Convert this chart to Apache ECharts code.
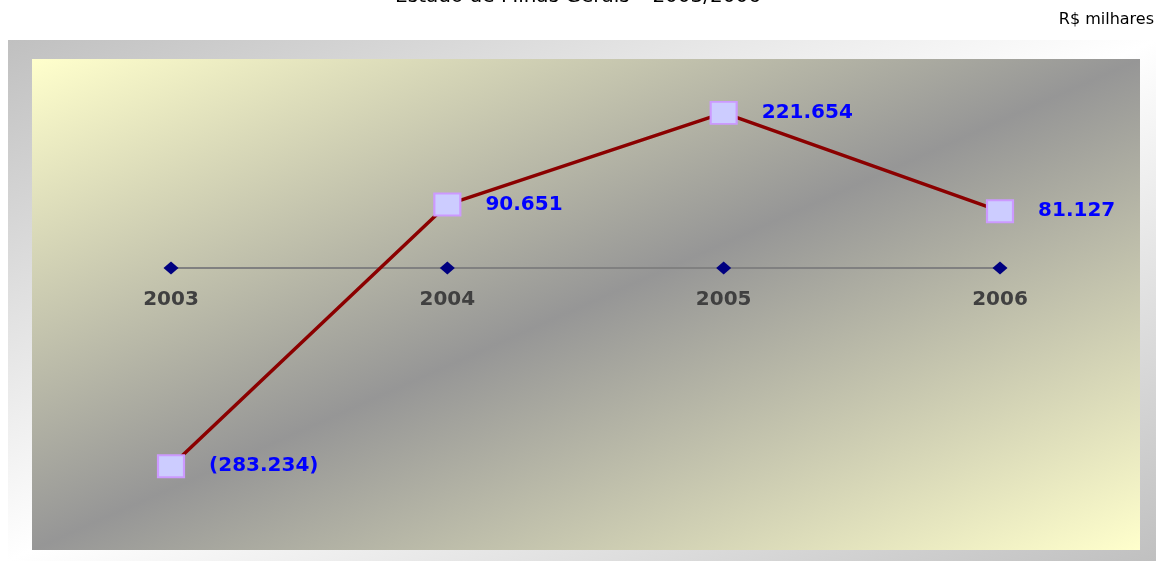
<!DOCTYPE html>
<html>
<head>
<meta charset="utf-8">
<script src="https://cdn.jsdelivr.net/npm/echarts@6/dist/echarts.min.js"></script>
<style>
  html, body { margin: 0; padding: 0; background: #fff; }
  #chart { width: 1156px; height: 561px; }
</style>
</head>
<body>
<div id="chart"></div>
<script>
// dados (R$ milhares)
const anos = ['2003', '2004', '2005', '2006']
const resultado = [-283234, 90651, 221654, 81127]
const linhaBase = [0, 0, 0, 0]

// 1.234 -> "1.234", negativo entre parenteses
function fmt(v) {
  const s = String(Math.abs(v)).replace(/\B(?=(\d{3})+(?!\d))/g, '.')
  return v < 0 ? '(' + s + ')' : s
}

// gradiente diagonal com as isolinhas paralelas a diagonal secundaria
function diag(w, h, c0, c1) {
  const s = w * w + h * h
  return new echarts.graphic.LinearGradient(0, 0, 2 * h * h / s, 2 * w * w / s, [
    { offset: 0, color: c0 },
    { offset: 0.5, color: c1 },
    { offset: 1, color: c0 }
  ])
}

const chart = echarts.init(document.getElementById('chart'))
chart.setOption({
  animation: false,
  graphic: [
    {
      type: 'rect', z: -20, silent: true,
      shape: { x: 8, y: 40, width: 1148, height: 521 },
      style: { fill: diag(1148, 521, '#c0c0c0', '#ffffff') }
    },
    {
      type: 'rect', z: -19, silent: true,
      shape: { x: 32, y: 59, width: 1108, height: 491 },
      style: { fill: diag(1108, 491, '#ffffcc', '#969696') }
    },
    {
      type: 'text', left: 'center', top: -13,
      style: {
        text: 'Estado de Minas Gerais – 2003/2006',
        font: '20px "DejaVu Sans"', fill: '#000'
      }
    },
    {
      type: 'text', right: 2, top: 12,
      style: { text: 'R$ milhares', font: '16px "DejaVu Sans"', fill: '#000' }
    }
  ],
  grid: { left: 171, right: 156, top: 58, bottom: 83 },
  xAxis: {
    type: 'category',
    data: anos,
    boundaryGap: false,
    axisLine: { onZero: true, lineStyle: { color: '#808080', width: 2 } },
    axisTick: { show: false },
    axisLabel: { show: false },
    splitLine: { show: false }
  },
  yAxis: {
    type: 'value',
    min: -300000,
    max: 300000,
    show: false,
    splitLine: { show: false }
  },
  series: [
    {
      type: 'line',
      data: linhaBase,
      symbol: 'diamond',
      symbolSize: [15, 13],
      lineStyle: { width: 0, opacity: 0 },
      itemStyle: { color: '#000080' },
      label: {
        show: true,
        position: 'bottom',
        distance: 15,
        formatter: p => p.name,
        color: '#404040',
        fontFamily: 'DejaVu Sans',
        fontWeight: 'bold',
        fontSize: 20
      },
      z: 3
    },
    {
      type: 'line',
      data: resultado,
      symbol: 'rect',
      symbolSize: [26, 22],
      lineStyle: { color: '#8b0000', width: 3.5 },
      itemStyle: { color: '#ccccff', borderColor: '#cc99ff', borderWidth: 2 },
      label: {
        show: true,
        position: 'right',
        distance: 24,
        formatter: p => fmt(p.value),
        color: '#0000ff',
        fontFamily: 'DejaVu Sans',
        fontWeight: 'bold',
        fontSize: 20
      },
      z: 4
    }
  ]
})
</script>
</body>
</html>
